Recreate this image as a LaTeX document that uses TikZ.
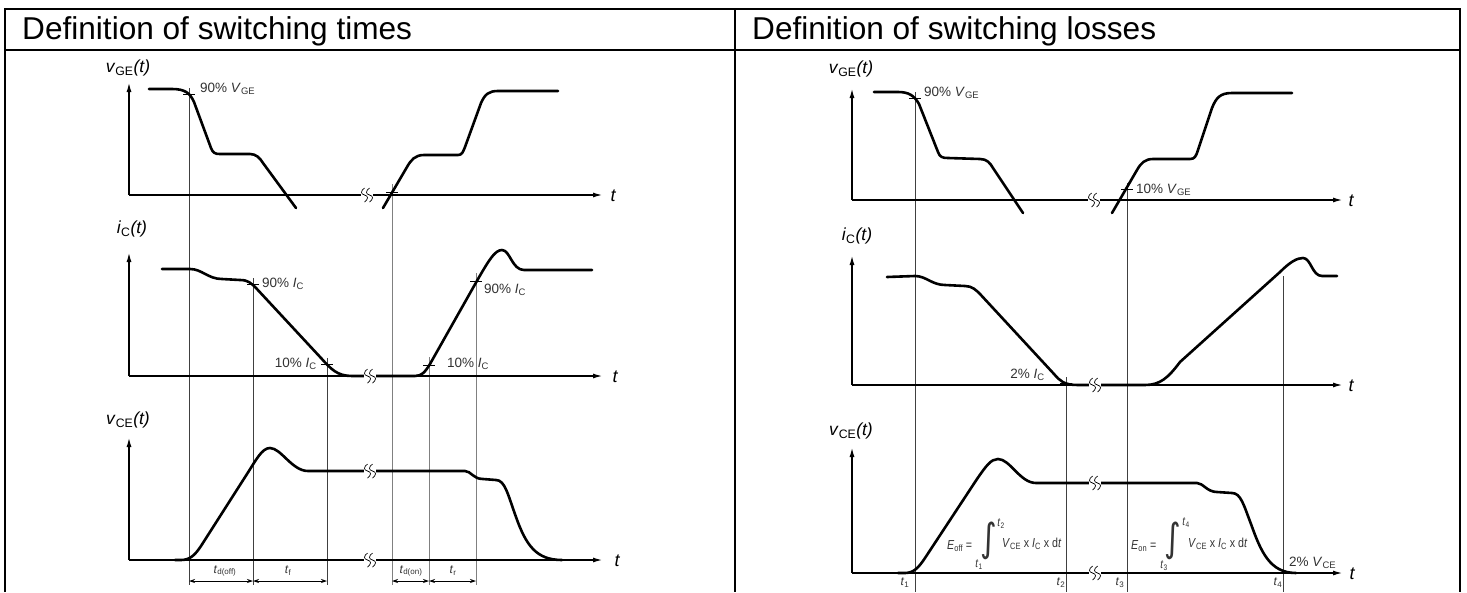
\documentclass[tikz,border=0pt]{standalone}
\usepackage{amsmath}
\usepackage{graphicx}
\usepackage{fontspec}
\setmainfont{Liberation Sans}
\newfontfamily\symfont{DejaVu Sans}
\usetikzlibrary{arrows.meta,positioning}
\newcommand{\idx}[2]{\textit{#1}\textsubscript{#2}}
\newcommand{\narrow}[1]{\scalebox{0.82}[1]{#1}}
\tikzset{
  brk/.pic={
    \fill[white] (-6,-8) rectangle (6,8);
    \foreach \dx in {-2.5,2.5}
      \draw[line width=0.7pt] (\dx,-7) .. controls (\dx-4,-4) and (\dx-4,-1) .. (\dx,0)
        .. controls (\dx+4,1) and (\dx+4,4) .. (\dx,7);
  }
}

\begin{document}
\begin{tikzpicture}[
  x=1pt, y=-1pt,
  wave/.style={line width=2.6pt, line cap=round, line join=round},
  axis/.style={line width=1.7pt, -{Latex[length=10pt,width=5pt]}},
  guide/.style={line width=0.9pt, black!75},
  guidegray/.style={line width=0.9pt, black!50},
  tick/.style={line width=0.9pt},
  pct/.style={font=\fontsize{13.5}{16}\selectfont, text=black!80, inner sep=1pt},
  ylab/.style={font=\fontsize{17.5}{20}\selectfont, inner sep=0pt},
  tlab/.style={font=\fontsize{18}{20}\selectfont\itshape, inner sep=0pt},
  tiny/.style={font=\fontsize{12}{14}\selectfont, text=black!80, inner sep=0.5pt},
  frm/.style={font=\fontsize{13}{15}\selectfont, text=black!80, inner sep=0pt},
  intg/.style={font=\symfont\fontsize{39}{39}\selectfont, text=black!80, inner sep=0pt},
  dim/.style={line width=0.8pt, {Stealth[length=6pt,width=4pt]}-{Stealth[length=6pt,width=4pt]}},
  head/.style={font=\fontsize{31.6}{36}\selectfont, anchor=base west, inner sep=0pt},
  frame/.style={line width=1.3pt}
]
\useasboundingbox (0,0) rectangle (1467,592);
\fill[white] (0,0) rectangle (1467,592);

% table
\draw[frame] (5,592) -- (5,9) -- (1460,9) -- (1460,592);
\draw[frame] (5,50) -- (1460,50);
\draw[frame] (735,9) -- (735,592);
\node[head] (hleft) at (22,39) {Definition of switching times};
\node[head] (hright) at (752,39) {Definition of switching losses};

% ---- switching times ----
\coordinate (bl) at (0,585);
\coordinate (dm) at (0,581);
\coordinate (vg90) at (189,94);
\coordinate (vg0) at (392,192);
\coordinate (ic90a) at (253,284);
\coordinate (ic10a) at (327,364);
\coordinate (ic10b) at (429,365);
\coordinate (ic90b) at (476,281);

\foreach \p in {vg90,ic90a,ic10a}
  \draw[guide] ([yshift=6pt]\p) -- (\p |- bl);
\foreach \p in {vg0,ic10b,ic90b}
  \draw[guidegray] ([yshift=8pt]\p) -- (\p |- bl);

\draw[axis] (129,195) -- (129,82);
\draw[axis] (129,195) -- (603,195);
\draw[axis] (129,376) -- (129,252);
\draw[axis] (129,376) -- (603,376);
\draw[axis] (129,560) -- (129,437);
\draw[axis] (129,560) -- (603,560);

% v_GE
\draw[wave] (149,89) -- (172,89) .. controls (185,89) and (190,93) .. (194,102) -- (211,148)
  .. controls (213,153) and (215,154) .. (220,154) -- (250,154)
  .. controls (256,154) and (260,158) .. (263,163) -- (296,208);
\draw[wave] (383,208) -- (407,167) .. controls (411,160) and (415,155) .. (424,155) -- (458,155)
  .. controls (462,155) and (463,152) .. (465,147) -- (481,103)
  .. controls (485,94) and (489,91) .. (498,91) -- (558,91);
% i_C
\draw[wave] (162,269) -- (190,269) .. controls (202,269) and (208,279) .. (222,279) -- (240,280)
  .. controls (248,280) and (251,283) .. (256,288) -- (321,358)
  .. controls (331,369) and (337,376) .. (352,376) -- (415,376)
  .. controls (422,376) and (425,372) .. (430,364) -- (478,279)
  .. controls (489,260) and (495,250) .. (502,250)
  .. controls (510,250) and (512,270) .. (524,270) -- (592,270);
% v_CE
\draw[wave] (175,560) -- (181,560) .. controls (190,560) and (195,555) .. (201,546) -- (247,474)
  .. controls (256,460) and (262,448) .. (270,448)
  .. controls (281,448) and (292,471) .. (308,471) -- (465,471)
  .. controls (471,471) and (473,479) .. (483,479) -- (496,480)
  .. controls (505,480) and (508,495) .. (516,517)
  .. controls (526,545) and (536,560) .. (562,560);

\pic at (367,195) {brk};
\pic at (370,376) {brk};
\pic at (370,471) {brk};
\pic at (370,560) {brk};

\foreach \p in {vg90,vg0,ic90a,ic10a,ic10b,ic90b}
  \draw[tick] ([xshift=-6pt]\p) -- ([xshift=6pt]\p);

\draw[dim] (vg90 |- dm) -- (ic90a |- dm);
\draw[dim] (ic90a |- dm) -- (ic10a |- dm);
\draw[dim] (vg0 |- dm) -- (ic10b |- dm);
\draw[dim] (ic10b |- dm) -- (ic90b |- dm);

\node[ylab] (vge1) at (128,68) {\idx{v}{GE}\textit{(t)}};
\node[ylab] (ic1) at (132,229) {\idx{i}{C}\textit{(t)}};
\node[ylab] (vce1) at (128,420) {\idx{v}{CE}\textit{(t)}};
\node[tlab] at (613,196) {t};
\node[tlab] at (615,377) {t};
\node[tlab] at (617,561) {t};
\node[pct, anchor=west] at (199,89) {90\% \idx{V}{GE}};
\node[pct, anchor=west] at (261,284) {90\% \idx{I}{C}};
\node[pct, anchor=east] at (318,364) {10\% \idx{I}{C}};
\node[pct, anchor=west] at (446,364) {10\% \idx{I}{C}};
\node[pct, anchor=west] at (483,290) {90\% \idx{I}{C}};
\node[tiny] at (225,571) {\idx{t}{d(off)}};
\node[tiny] at (288,571) {\idx{t}{f}};
\node[tiny] at (411,571) {\idx{t}{d(on)}};
\node[tiny] at (453,571) {\idx{t}{r}};

% ---- switching losses ----
\coordinate (br) at (0,592);
\coordinate (t1) at (915,98);
\coordinate (t2) at (1066,383);
\coordinate (t3) at (1127,189);
\coordinate (t4) at (1283,276);

\foreach \p in {t1,t2,t3}
  \draw[guide] ([yshift=6pt]\p) -- (\p |- br);
\draw[guide] (t4) -- (t4 |- br);

\draw[axis] (852,200) -- (852,88);
\draw[axis] (852,200) -- (1343,200);
\draw[axis] (852,385) -- (852,255);
\draw[axis] (852,385) -- (1343,385);
\draw[axis] (852,573) -- (852,447);
\draw[axis] (852,573) -- (1343,573);

% v_GE
\draw[wave] (874,92) -- (898,92) .. controls (908,92) and (914,95) .. (919,104) -- (938,152)
  .. controls (940,157) and (942,158) .. (948,158) -- (980,159)
  .. controls (987,159) and (990,163) .. (993,168) -- (1023,213);
\draw[wave] (1112,213) -- (1137,170) .. controls (1141,163) and (1145,159) .. (1153,159) -- (1190,159)
  .. controls (1195,159) and (1196,156) .. (1198,150) -- (1212,108)
  .. controls (1216,98) and (1220,93) .. (1232,93) -- (1292,93);
% i_C
\draw[wave] (887,277) -- (915,276) .. controls (926,276) and (932,285) .. (945,285) -- (965,286)
  .. controls (972,286) and (976,290) .. (980,294) -- (1054,374)
  .. controls (1060,381) and (1064,385) .. (1078,385) -- (1145,385)
  .. controls (1160,385) and (1168,378) .. (1180,362) -- (1280,272)
  .. controls (1290,262) and (1297,258) .. (1303,258)
  .. controls (1311,258) and (1312,276) .. (1322,276) -- (1337,276);
% v_CE
\draw[wave] (898,573) -- (905,573) .. controls (914,573) and (919,567) .. (925,558) -- (977,479)
  .. controls (986,466) and (991,459) .. (998,459)
  .. controls (1010,459) and (1020,483) .. (1036,483) -- (1197,483)
  .. controls (1203,483) and (1207,492) .. (1217,492) -- (1232,493)
  .. controls (1241,493) and (1244,506) .. (1251,524)
  .. controls (1261,552) and (1270,573) .. (1296,573);

\pic at (1094,200) {brk};
\pic at (1095,385) {brk};
\pic at (1095,483) {brk};
\pic at (1095,573) {brk};

\foreach \p in {t1,t2,t3}
  \draw[tick] ([xshift=-6pt]\p) -- ([xshift=6pt]\p);

\node[ylab] (vge2) at (851,69) {\idx{v}{GE}\textit{(t)}};
\node[ylab] (ic2) at (857,236) {\idx{i}{C}\textit{(t)}};
\node[ylab] (vce2) at (851,431) {\idx{v}{CE}\textit{(t)}};
\node[tlab] at (1351,201) {t};
\node[tlab] at (1351,386) {t};
\node[tlab] at (1352,574) {t};
\node[pct, anchor=west] at (923,93) {90\% \idx{V}{GE}};
\node[pct, anchor=west] at (1135,190) {10\% \idx{V}{GE}};
\node[pct, anchor=east] at (1046,375) {2\% \idx{I}{C}};
\node[pct, anchor=west] at (1288,563) {2\% \idx{V}{CE}};

% energy integrals
\node[frm, anchor=west] (eoff) at (947,546) {\narrow{\idx{E}{off} =}};
\node[intg] (ioff) at (989,541) {\narrow{∫}};
\node[tiny] at (979,565) {\narrow{\idx{t}{1}}};
\node[tiny] at (1001,524) {\narrow{\idx{t}{2}}};
\node[frm, anchor=west] (poff) at (1002,544) {\narrow{\idx{V}{CE} x \idx{I}{C} x d\textit{t}}};

\node[frm, anchor=west] (eon) at (1131,546) {\narrow{\idx{E}{on} =}};
\node[intg] (ion) at (1173,541) {\narrow{∫}};
\node[tiny] at (1164,566) {\narrow{\idx{t}{3}}};
\node[tiny] at (1186,523) {\narrow{\idx{t}{4}}};
\node[frm, anchor=west] (pon) at (1188,544) {\narrow{\idx{V}{CE} x \idx{I}{C} x d\textit{t}}};

\node[tiny] at (905,583) {\idx{t}{1}};
\node[tiny] at (1061,583) {\idx{t}{2}};
\node[tiny] at (1120,583) {\idx{t}{3}};
\node[tiny] at (1278,583) {\idx{t}{4}};
\end{tikzpicture}
\end{document}
